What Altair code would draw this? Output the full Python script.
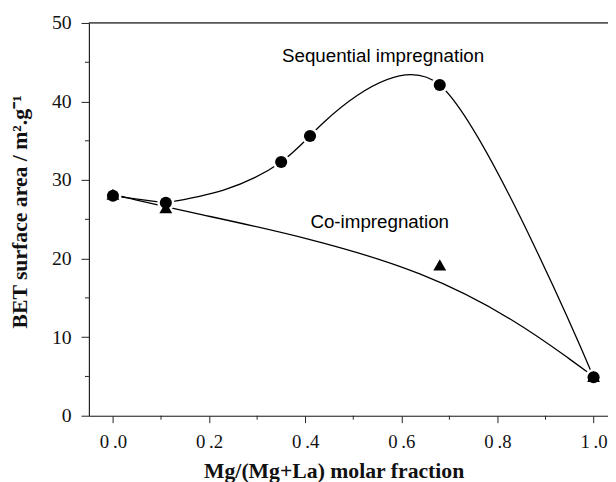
import altair as alt
import pandas as pd

# Data
seq_x = [0.0, 0.11, 0.35, 0.41, 0.68, 1.0]
seq_y = [28.0, 27.1, 32.3, 35.6, 42.1, 4.9]
co_x = [0.0, 0.11, 0.68, 1.0]
co_y = [28.2, 26.5, 19.2, 5.0]

label_text = ["Sequential impregnation", "Co-impregnation"]
label_x = [0.562, 0.555]
label_y = [45.8, 24.6]

x_major = [0.0, 0.2, 0.4, 0.6, 0.8, 1.0]
x_minor = [0.1, 0.3, 0.5, 0.7, 0.9]
y_major = [0, 10, 20, 30, 40, 50]
y_minor = [5, 15, 25, 35, 45]

W, H = 526, 398
XDOM = [-0.05, 1.03]
YDOM = [0, 50]

seq = pd.DataFrame({"x": seq_x, "y": seq_y})
co = pd.DataFrame({"x": co_x, "y": co_y})
labels = pd.DataFrame({"t": label_text, "x": label_x, "y": label_y})
# sequential curve drawn in pieces joined at the markers
seq_a = seq.iloc[:2]
seq_b1 = seq.iloc[1:4]
seq_b2 = seq.iloc[3:]

xs = alt.Scale(domain=XDOM, nice=False, zero=False)
ys = alt.Scale(domain=YDOM, nice=False, zero=False)

AX = "#222222"
SERIF = "Liberation Serif"

x_enc = alt.X(
    "x:Q", scale=xs,
    axis=alt.Axis(
        values=x_major, title="Mg/(Mg+La) molar fraction",
        labelExpr="replace(format(datum.value, '.1f'), '.', '\u2009.')",
        grid=False, tickSize=7, tickColor=AX, domainColor=AX, tickWidth=1, domainWidth=1.2,
        labelFont=SERIF, labelFontSize=19, labelColor="#111", labelPadding=10,
        titleFont=SERIF, titleFontSize=22, titleFontWeight="bold", titleColor="#111",
        titleX=248, titleY=56, titleAlign="center", titleBaseline="middle",
    ),
)
y_enc = alt.Y(
    "y:Q", scale=ys,
    axis=alt.Axis(
        values=y_major, format="d", title="BET surface area / m².g⁻¹",
        grid=False, tickSize=8, tickColor=AX, domainColor=AX, tickWidth=1, domainWidth=1.2,
        labelFont=SERIF, labelFontSize=20, labelColor="#111", labelPadding=10,
        titleFont=SERIF, titleFontSize=22, titleFontWeight="bold", titleColor="#111",
        titleX=-70, titleY=191, titleAlign="center", titleBaseline="middle", titleAngle=270,
    ),
)

def enc(c):
    return c.encode(x=alt.X("x:Q", scale=xs), y=alt.Y("y:Q", scale=ys))

seq_line_a = alt.Chart(seq_a).mark_line(color="black", strokeWidth=1.3).encode(x=x_enc, y=y_enc)
seq_line_b1 = enc(alt.Chart(seq_b1).mark_line(interpolate="monotone", color="black", strokeWidth=1.3))
seq_line_b2 = enc(alt.Chart(seq_b2).mark_line(interpolate="cardinal", tension=0, color="black", strokeWidth=1.3))
co_line = enc(alt.Chart(co).mark_line(interpolate="basis", color="black", strokeWidth=1.3))

tri_halo = enc(alt.Chart(co).mark_point(shape="triangle-up", filled=True, color="white", size=290, opacity=1))
circ_halo = enc(alt.Chart(seq).mark_point(shape="circle", filled=True, color="white", size=300, opacity=1))
tri = enc(alt.Chart(co).mark_point(shape="triangle-up", filled=True, color="black", size=170, opacity=1))
circ = enc(alt.Chart(seq).mark_point(shape="circle", filled=True, color="black", size=150, opacity=1))

text = alt.Chart(labels).mark_text(font="Liberation Sans", fontSize=19, color="black", baseline="middle").encode(
    x=alt.X("x:Q", scale=xs), y=alt.Y("y:Q", scale=ys), text="t:N"
)

top_border = alt.Chart(pd.DataFrame({"a": [0]})).mark_rule(color=AX, strokeWidth=1.2).encode(
    x=alt.value(0), x2=alt.value(W), y=alt.value(0)
)

xminor = alt.Chart(pd.DataFrame({"x": x_minor})).mark_rule(color=AX, strokeWidth=1).encode(
    x=alt.X("x:Q", scale=xs), y=alt.value(H), y2=alt.value(H + 4)
)
yminor = alt.Chart(pd.DataFrame({"y": y_minor})).mark_rule(color=AX, strokeWidth=1).encode(
    y=alt.Y("y:Q", scale=ys), x=alt.value(-4), x2=alt.value(0)
)

chart = alt.layer(
    seq_line_a, seq_line_b1, seq_line_b2, co_line, top_border, xminor, yminor,
    tri_halo, circ_halo, tri, circ, text
).properties(
    width=W, height=H,
    padding={"left": 82, "top": 12, "right": 0, "bottom": 64},
    autosize=alt.AutoSizeParams(type="none"),
).configure_view(stroke=None).configure(background="white")

chart.save("out.html", embed_options={"renderer": "svg", "actions": False})
